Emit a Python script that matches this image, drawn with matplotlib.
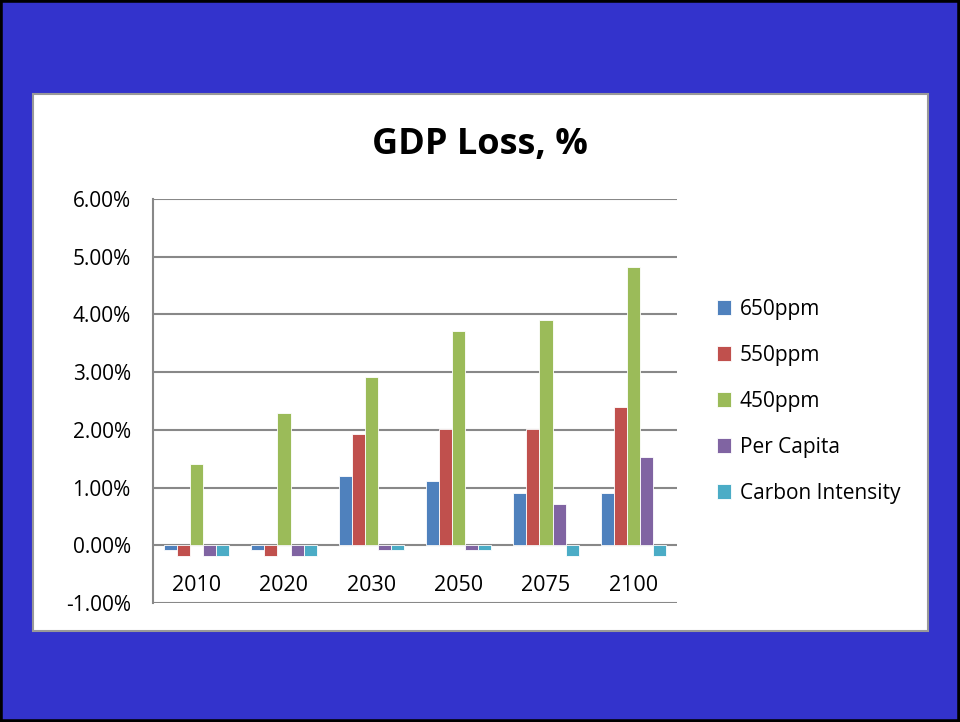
import matplotlib
matplotlib.use("Agg")
import matplotlib.pyplot as plt
import numpy as np
from matplotlib.patches import Rectangle
from matplotlib.ticker import FuncFormatter

categories = ["2010", "2020", "2030", "2050", "2075", "2100"]
series_names = ["650ppm", "550ppm", "450ppm", "Per Capita", "Carbon Intensity"]
v650 = [-0.08, -0.08, 1.20, 1.11, 0.91, 0.91]
v550 = [-0.18, -0.18, 1.92, 2.01, 2.01, 2.40]
v450 = [1.40, 2.30, 2.92, 3.72, 3.91, 4.82]
per_capita = [-0.18, -0.18, -0.08, -0.08, 0.72, 1.53]
carbon_int = [-0.18, -0.18, -0.08, -0.08, -0.18, -0.18]
yticks = [-1, 0, 1, 2, 3, 4, 5, 6]

colors = ["#4F81BD", "#C0504D", "#9BBB59", "#8064A2", "#4BACC6"]
all_series = [v650, v550, v450, per_capita, carbon_int]

plt.rcParams['font.family'] = ['Open Sans', 'DejaVu Sans']

fig = plt.figure(figsize=(9.6, 7.22), dpi=100)
fig.patch.set_facecolor("#3333CC")
# outer black border
fig.patches.append(Rectangle((0, 0), 1, 1, transform=fig.transFigure, fill=False,
                             edgecolor="black", linewidth=4, zorder=-2))
# white chart box
x0, x1 = 33 / 960, 928 / 960
y0, y1 = 1 - 631 / 722, 1 - 94 / 722
fig.patches.append(Rectangle((x0, y0), x1 - x0, y1 - y0, transform=fig.transFigure,
                             facecolor="white", edgecolor="#999999", linewidth=1.5, zorder=-1))

ax = fig.add_axes([153 / 960, 1 - 603 / 722, (677 - 153) / 960, (603 - 199) / 722])
ax.set_zorder(2)
ax.set_facecolor("none")

n = len(categories)
x = np.arange(n)
w = 0.15
for i, (name, vals, c) in enumerate(zip(series_names, all_series, colors)):
    ax.bar(x + (i - 2) * w, vals, width=w, color=c, edgecolor="white", linewidth=0.6,
           label=name, zorder=3)

ax.set_xlim(-0.5, n - 0.5)
ax.set_ylim(-1, 6)
ax.set_yticks(yticks)
ax.yaxis.set_major_formatter(FuncFormatter(lambda v, p: f"{v:.2f}%"))
ax.tick_params(axis="y", length=0, labelsize=15, pad=16)
ax.set_xticks([])
for yv in yticks:
    ax.axhline(yv, color="#888888", linewidth=1.5, zorder=1)
for s in ["top", "right", "bottom"]:
    ax.spines[s].set_visible(False)
ax.spines["left"].set_color("#888888")
ax.spines["left"].set_linewidth(1.5)

for i, c in enumerate(categories):
    ax.text(x[i], -0.69, c, ha="center", va="center", fontsize=15.5)

fig.text(480 / 960, 1 - 145 / 722, "GDP Loss, %", ha="center", va="center",
         fontsize=26, fontweight="bold", zorder=3)

leg = ax.legend(loc="center left", bbox_to_anchor=(1.04, 0.5), frameon=False,
                fontsize=15, handlelength=0.7, handleheight=0.7, handletextpad=0.4,
                labelspacing=1.2)

fig.savefig("out.png", dpi=100, facecolor=fig.get_facecolor())
